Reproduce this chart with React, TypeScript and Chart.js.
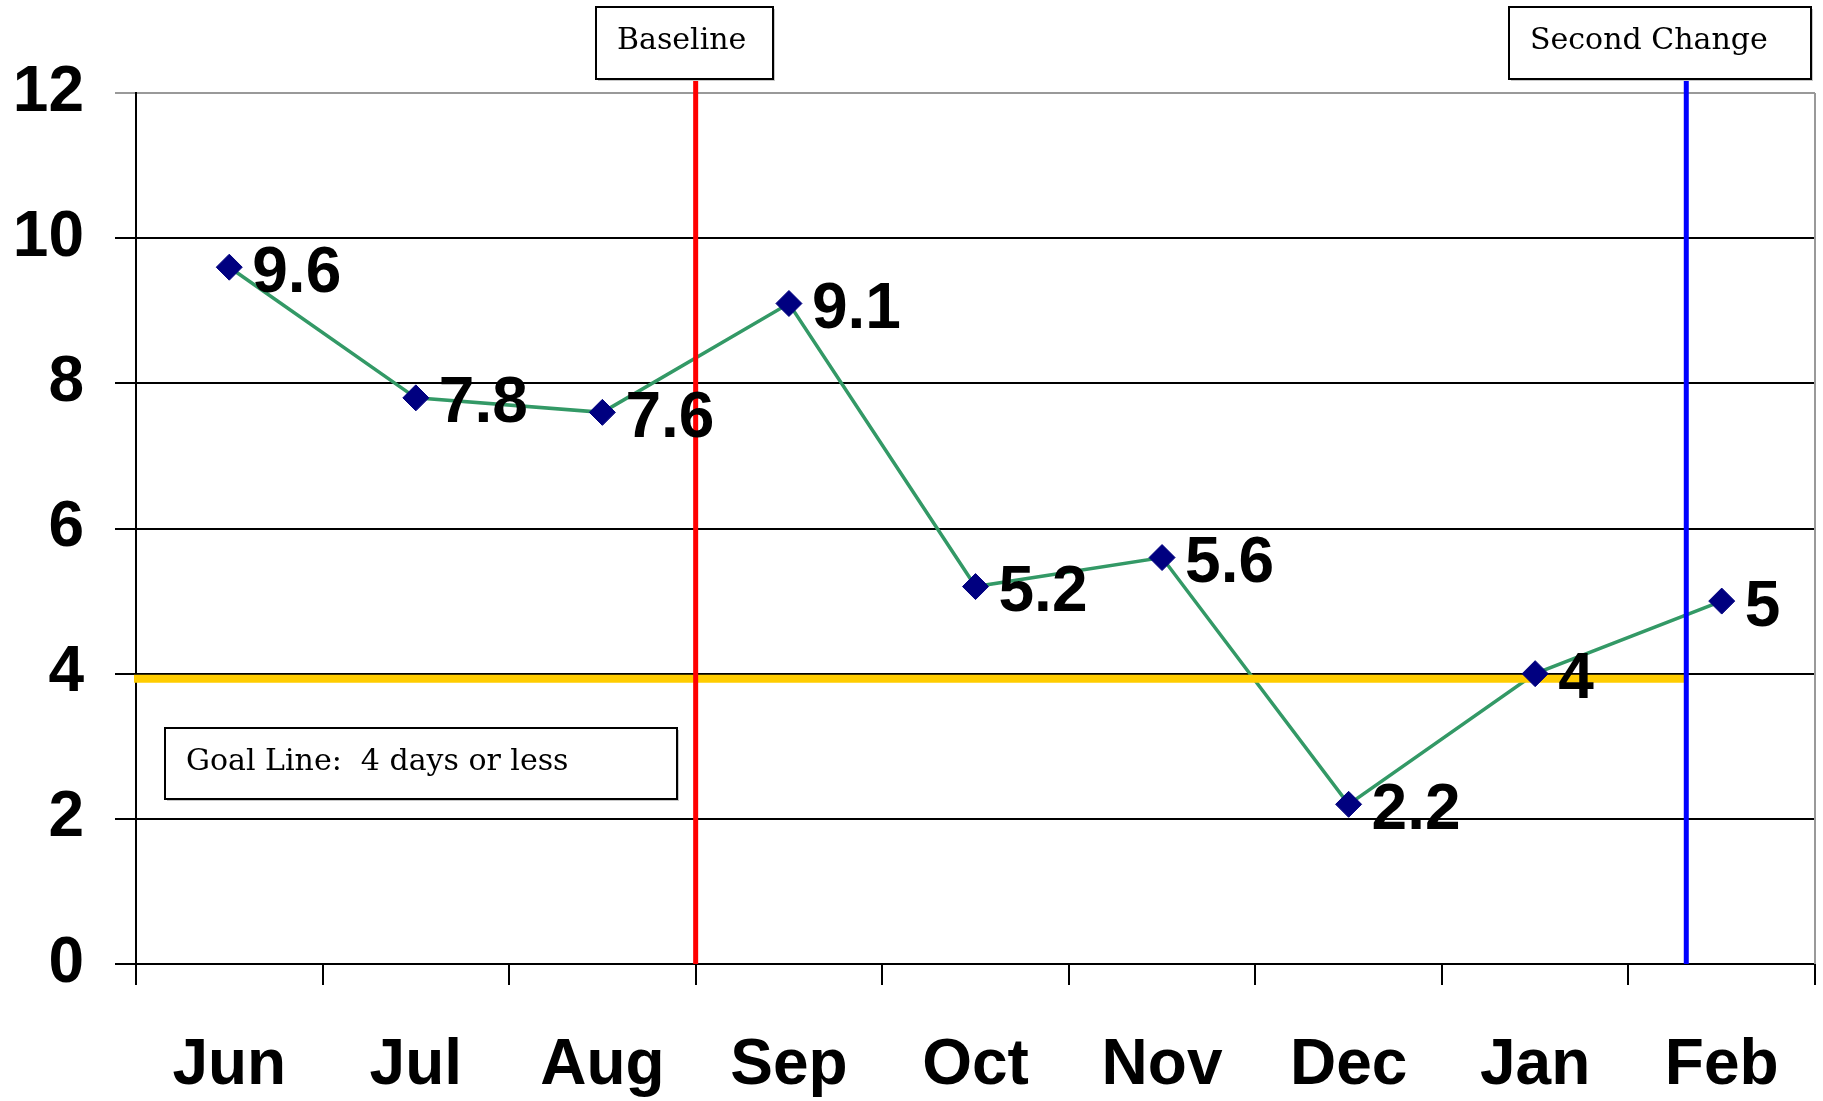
import React, { useEffect, useRef } from 'react';
import { Chart, registerables } from 'chart.js';

Chart.register(...registerables);

const categories = ['Jun', 'Jul', 'Aug', 'Sep', 'Oct', 'Nov', 'Dec', 'Jan', 'Feb'];
const values = [9.6, 7.8, 7.6, 9.1, 5.2, 5.6, 2.2, 4, 5];
const yMin = 0;
const yMax = 12;
const yStep = 2;
const goalValue = 4;
const baselineAt = 2.5;
const secondChangeAt = 7.81;
const baselineText = 'Baseline';
const secondChangeText = 'Second Change';
const goalText = 'Goal Line:  4 days or less';

const W = 1823;
const H = 1101;

const boxFont = '30px "DejaVu Serif"';
const boldFont = 'bold 64px "Liberation Sans"';

function drawBox(ctx: CanvasRenderingContext2D, x: number, y: number, w: number, h: number, text: string, tx: number, dy: number) {
  ctx.save();
  ctx.fillStyle = '#c8c8c8';
  ctx.fillRect(x + 2, y + 2, w, h);
  ctx.fillStyle = '#ffffff';
  ctx.fillRect(x, y, w, h);
  ctx.strokeStyle = '#000000';
  ctx.lineWidth = 2;
  ctx.strokeRect(x, y, w, h);
  ctx.fillStyle = '#000000';
  ctx.font = boxFont;
  ctx.textAlign = 'left';
  ctx.textBaseline = 'middle';
  ctx.fillText(text, tx, y + h / 2 + dy);
  ctx.restore();
}

const overlayPlugin = {
  id: 'overlays',
  afterDatasetDraw(chart: any, args: any) {
    if (args.index !== 1) return;
    const ctx: CanvasRenderingContext2D = chart.ctx;
    const xs = chart.scales.x;
    const ys = chart.scales.y;
    const area = chart.chartArea;
    const redX = xs.getPixelForValue(baselineAt);
    const blueX = xs.getPixelForValue(secondChangeAt);
    ctx.save();
    // goal line
    ctx.strokeStyle = '#FFCC00';
    ctx.lineWidth = 8;
    const gy = ys.getPixelForValue(goalValue) + 5;
    ctx.beginPath();
    ctx.moveTo(area.left - 2, gy);
    ctx.lineTo(blueX, gy);
    ctx.stroke();
    // vertical phase lines
    ctx.lineWidth = 5;
    ctx.strokeStyle = '#FF0000';
    ctx.beginPath();
    ctx.moveTo(redX, 78);
    ctx.lineTo(redX, area.bottom);
    ctx.stroke();
    ctx.strokeStyle = '#0000FF';
    ctx.beginPath();
    ctx.moveTo(blueX, 78);
    ctx.lineTo(blueX, area.bottom);
    ctx.stroke();
    ctx.restore();
  },
  afterDatasetsDraw(chart: any) {
    const ctx: CanvasRenderingContext2D = chart.ctx;
    const meta = chart.getDatasetMeta(0);
    ctx.save();
    ctx.font = boldFont;
    ctx.fillStyle = '#000000';
    ctx.textAlign = 'left';
    ctx.textBaseline = 'middle';
    meta.data.forEach((pt: any, i: number) => {
      ctx.fillText(String(values[i]), pt.x + 23, pt.y + 7);
    });
    ctx.restore();
  },
  afterDraw(chart: any) {
    const ctx: CanvasRenderingContext2D = chart.ctx;
    const area = chart.chartArea;
    ctx.save();
    ctx.strokeStyle = '#999999';
    ctx.lineWidth = 2;
    ctx.beginPath();
    ctx.moveTo(area.right, area.top);
    ctx.lineTo(area.right, area.bottom);
    ctx.stroke();
    ctx.restore();
    drawBox(ctx, 596, 7, 177, 72, baselineText, 617, -2);
    drawBox(ctx, 1509, 7, 302, 72, secondChangeText, 1530, -2);
    drawBox(ctx, 165, 728, 512, 71, goalText, 186, -1);
  },
};

export default function App() {
  const ref = useRef<HTMLCanvasElement | null>(null);
  useEffect(() => {
    document.body.style.margin = '0';
    const canvas = ref.current;
    if (!canvas) return;
    const chart = new Chart(canvas, {
      type: 'line',
      data: {
        labels: categories,
        datasets: [
          {
            data: values,
            showLine: false,
            pointStyle: 'rectRot',
            pointRadius: 13,
            pointBackgroundColor: '#000080',
            pointBorderColor: '#000080',
            pointBorderWidth: 1,
            order: 0,
          },
          {
            data: values,
            borderColor: '#339966',
            borderWidth: 3.5,
            pointRadius: 0,
            fill: false,
            tension: 0,
            order: 1,
          },
        ],
      },
      options: {
        responsive: false,
        animation: false,
        layout: { autoPadding: false, padding: { top: 93, right: 8, left: 0, bottom: 0 } },
        plugins: {
          legend: { display: false },
          tooltip: { enabled: false },
        },
        scales: {
          x: {
            type: 'category',
            offset: true,
            grid: {
              offset: true,
              drawOnChartArea: false,
              drawTicks: true,
              tickLength: 21,
              color: '#000000',
              lineWidth: 2,
            },
            border: { display: true, color: '#000000', width: 2 },
            ticks: {
              color: '#000000',
              font: { family: 'Liberation Sans', size: 64, weight: 'bold' },
              padding: 43,
              maxRotation: 0,
              autoSkip: false,
            },
            afterFit: (s: any) => {
              s.height = 137;
              s.paddingLeft = 0;
              s.paddingRight = 0;
            },
          },
          y: {
            min: yMin,
            max: yMax,
            ticks: {
              stepSize: yStep,
              color: '#000000',
              font: { family: 'Liberation Sans', size: 64, weight: 'bold' },
              padding: 31,
            },
            grid: {
              color: (c: any) => (c.tick && c.tick.value === yMax ? '#999999' : '#000000'),
              lineWidth: 2,
              tickLength: 21,
              drawTicks: true,
            },
            border: { display: true, color: '#000000', width: 2 },
            afterFit: (s: any) => {
              s.width = 136;
              s.paddingTop = 0;
              s.paddingBottom = 0;
            },
          },
        },
      },
      plugins: [overlayPlugin],
    });
    return () => chart.destroy();
  }, []);
  return (
    <div style={{ width: W, height: H }}>
      <canvas ref={ref} width={W} height={H} style={{ display: 'block' }} />
    </div>
  );
}
